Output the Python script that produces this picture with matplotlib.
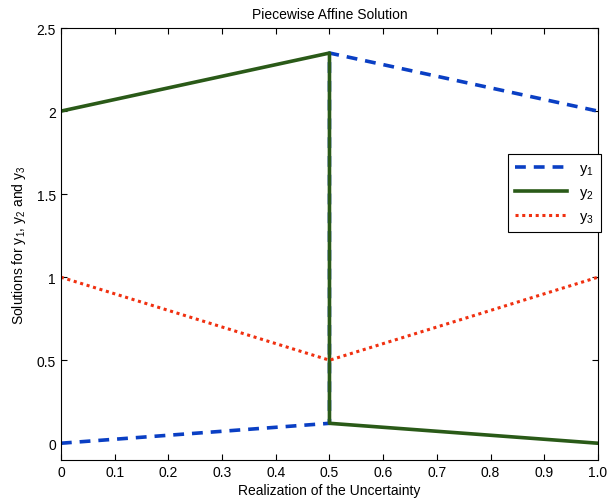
import matplotlib
matplotlib.use('Agg')
import matplotlib.pyplot as plt

plt.rcParams['font.family'] = ['Liberation Sans', 'DejaVu Sans']

x = [0.0, 0.5, 0.5, 1.0]
y1 = [0.0, 0.12, 2.35, 2.0]
y2 = [2.0, 2.35, 0.12, 0.0]
y3_x = [0.0, 0.5, 1.0]
y3 = [1.0, 0.5, 1.0]
xticks = [0, 0.1, 0.2, 0.3, 0.4, 0.5, 0.6, 0.7, 0.8, 0.9, 1.0]
xtick_labels = ['0', '0.1', '0.2', '0.3', '0.4', '0.5', '0.6', '0.7', '0.8', '0.9', '1.0']
yticks = [0, 0.5, 1, 1.5, 2, 2.5]
ytick_labels = ['0', '0.5', '1', '1.5', '2', '2.5']

fig = plt.figure(figsize=(6.09, 5.02), dpi=100)
ax = fig.add_axes([0.100, 0.082, 0.882, 0.860])

ax.plot(x, y1, linestyle=(0, (3, 2.2)), color='#0a3fc4', linewidth=2.6, label='$\\mathregular{y_1}$')
ax.plot(x, y2, linestyle='solid', color='#2a5a18', linewidth=2.6, label='$\\mathregular{y_2}$')
ax.plot(y3_x, y3, linestyle=(0, (1, 1.2)), color='#f03010', linewidth=2.2, label='$\\mathregular{y_3}$')

ax.set_xlim(0, 1)
ax.set_ylim(-0.1, 2.5)
ax.set_xticks(xticks)
ax.set_xticklabels(xtick_labels)
ax.set_yticks(yticks)
ax.set_yticklabels(ytick_labels)
ax.tick_params(direction='in', top=True, right=True, labelsize=10, length=4)

ax.set_title('Piecewise Affine Solution', fontsize=10, pad=7)
ax.set_xlabel('Realization of the Uncertainty', fontsize=10, labelpad=3)
ax.set_ylabel('Solutions for $\\mathregular{y_1}$, $\\mathregular{y_2}$ and $\\mathregular{y_3}$', fontsize=10, labelpad=6)

leg = ax.legend(loc='upper left', bbox_to_anchor=(0.818, 0.726), fontsize=10.5, fancybox=False,
                framealpha=1, edgecolor='black', handlelength=3.6, borderpad=0.5, labelspacing=0.55)
leg.get_frame().set_linewidth(0.8)

fig.savefig('out.png', dpi=100)
